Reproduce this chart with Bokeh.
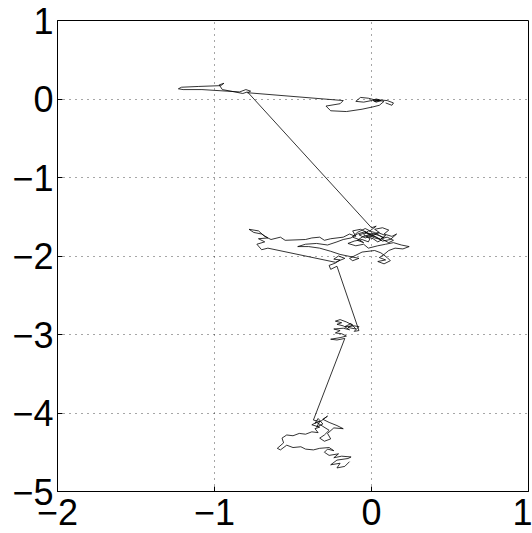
from bokeh.plotting import figure
from bokeh.models import FixedTicker, Range1d
from bokeh.embed import file_html
from bokeh.resources import INLINE

x_ticks = [-2, -1, 0, 1]
y_ticks = [1, 0, -1, -2, -3, -4, -5]
x_tick_labels = ["\u22122", "\u22121", "0", "1"]
y_tick_labels = ["1", "0", "\u22121", "\u22122", "\u22123", "\u22124", "\u22125"]

# bottom cluster
path_x_bottom = [-0.14, -0.17, -0.22, -0.20, -0.26, -0.22, -0.15, -0.13, -0.19, -0.24, -0.21, -0.27, -0.30,
                 -0.28, -0.24, -0.27, -0.33, -0.37, -0.42, -0.45, -0.50, -0.54, -0.58, -0.60, -0.56, -0.57,
                 -0.54, -0.50, -0.46, -0.42, -0.38, -0.34, -0.36, -0.33, -0.38, -0.35, -0.31, -0.27, -0.30,
                 -0.33, -0.30, -0.26, -0.28, -0.24, -0.18, -0.22, -0.27, -0.31, -0.28, -0.32, -0.36, -0.34,
                 -0.31, -0.35, -0.33, -0.37]
path_y_bottom = [-4.62, -4.68, -4.70, -4.64, -4.66, -4.60, -4.58, -4.56, -4.55, -4.57, -4.52, -4.54, -4.50,
                 -4.46, -4.48, -4.44, -4.45, -4.47, -4.46, -4.43, -4.44, -4.41, -4.47, -4.45, -4.38, -4.32,
                 -4.28, -4.29, -4.26, -4.27, -4.24, -4.25, -4.20, -4.18, -4.15, -4.12, -4.17, -4.22, -4.28,
                 -4.32, -4.36, -4.33, -4.26, -4.19, -4.20, -4.16, -4.12, -4.08, -4.04, -4.10, -4.13, -4.07,
                 -4.14, -4.18, -4.11, -4.09]

# cluster near -3
path_x_mid = [-0.17, -0.22, -0.26, -0.20, -0.16, -0.19, -0.23, -0.20, -0.24, -0.18, -0.14, -0.18, -0.22,
              -0.19, -0.23, -0.20, -0.16, -0.12, -0.15, -0.10, -0.13, -0.17, -0.11, -0.08, -0.11, -0.08]
path_y_mid = [-3.05, -3.07, -3.06, -3.04, -3.02, -2.99, -2.98, -2.95, -2.93, -2.92, -2.94, -2.89, -2.87,
              -2.85, -2.83, -2.81, -2.84, -2.88, -2.91, -2.93, -2.86, -2.90, -2.89, -2.90, -2.96, -2.95]

# main cluster near -2
path_x_main = [-0.22, -0.26, -0.27, -0.23, -0.20, -0.24, -0.21, -0.17, -0.23,
               -0.66, -0.70, -0.73, -0.68, -0.72, -0.66, -0.70, -0.75, -0.78, -0.72, -0.68, -0.64,
               -0.58, -0.55, -0.42, -0.38, -0.33, -0.30, -0.26, -0.18,
               -0.14, -0.10, -0.12, -0.07, -0.03, -0.08, -0.04, 0.01, 0.05, 0.02, 0.07, 0.11, 0.08, 0.13,
               0.16, 0.12, 0.07, 0.03,
               0.00, -0.04, -0.01, 0.03, 0.06, 0.02, -0.02, -0.06, -0.09, -0.05, -0.08, -0.12, -0.09,
               -0.04, 0.00, 0.04, 0.09, 0.06, 0.10, 0.14, 0.11, 0.07, 0.04, 0.01, -0.03, 0.00, 0.05,
               0.08, 0.05, 0.02, -0.02, -0.05, -0.01,
               -0.02, -0.06, -0.11, -0.15, -0.10, -0.05, -0.02, 0.04, 0.09, 0.14,
               0.19, 0.24, 0.20, 0.15, 0.11, 0.08, 0.05, 0.09, 0.04, 0.08, 0.12, 0.10, 0.06, 0.02,
               -0.06, -0.10, -0.14, -0.12, -0.08, -0.20, -0.26, -0.33, -0.40, -0.47, -0.42, -0.35, -0.28,
               -0.22, -0.18, -0.13, -0.09, -0.04, -0.01, 0.03, 0.00]
path_y_main = [-2.13, -2.17, -2.12, -2.09, -2.05, -2.04, -2.00, -2.03, -2.08,
               -1.90, -1.92, -1.85, -1.82, -1.78, -1.77, -1.72, -1.70, -1.66, -1.68, -1.75, -1.79,
               -1.76, -1.80, -1.79, -1.77, -1.76, -1.80, -1.78, -1.76,
               -1.72, -1.75, -1.68, -1.66, -1.70, -1.73, -1.77, -1.74, -1.70, -1.66, -1.64, -1.67, -1.72,
               -1.75, -1.72, -1.79, -1.81,
               -1.76, -1.74, -1.70, -1.72, -1.76, -1.79, -1.77, -1.73, -1.76, -1.80, -1.83, -1.79, -1.76,
               -1.72, -1.69, -1.73, -1.70, -1.74, -1.78, -1.76, -1.80, -1.83, -1.79, -1.82, -1.78, -1.75,
               -1.71, -1.74, -1.77, -1.74, -1.70, -1.68, -1.73, -1.78,
               -1.82, -1.79, -1.81, -1.84, -1.87, -1.85, -1.90, -1.87, -1.85, -1.83,
               -1.86, -1.88, -1.91, -1.90, -1.93, -1.98, -2.02, -2.05, -2.07, -2.10, -2.06,
               -2.02, -1.96, -1.93, -1.95, -1.99, -2.03, -2.06, -2.03, -1.98, -1.94, -1.90, -1.88, -1.88,
               -1.85, -1.84, -1.86, -1.82, -1.79, -1.77, -1.70, -1.65, -1.68, -1.62, -1.64]

# top part
path_x_top = [-0.79, -0.82, -0.87, -0.95, -0.97, -0.94, -0.96, -1.10, -1.21, -1.23, -1.20, -1.08, -0.92,
              -0.84, -0.80, -0.77, -0.79,
              -0.18, -0.20, -0.29, -0.26, -0.16, -0.06, 0.01, 0.05, 0.08, 0.02, -0.02, -0.07, -0.10,
              -0.05, 0.00, 0.03, 0.05, 0.02, 0.06, 0.03, 0.01, 0.04, 0.10, 0.14, 0.13, 0.09]
path_y_top = [0.09, 0.07, 0.09, 0.12, 0.18, 0.20, 0.17, 0.16, 0.15, 0.13, 0.12, 0.12, 0.10,
              0.09, 0.12, 0.10, 0.08,
              -0.02, -0.06, -0.09, -0.15, -0.16, -0.13, -0.10, -0.08, -0.03, -0.01, 0.01, 0.02, -0.03,
              -0.04, -0.02, 0.00, -0.01, -0.03, -0.02, -0.04, -0.02, -0.01, -0.02, -0.05, -0.08, -0.05]

xs = path_x_bottom + path_x_mid + path_x_main + path_x_top
ys = path_y_bottom + path_y_mid + path_y_main + path_y_top

p = figure(width=532, height=533, output_backend="svg", toolbar_location=None,
           x_range=Range1d(-2, 1), y_range=Range1d(-5, 1),
           min_border_left=57, min_border_right=4, min_border_top=20, min_border_bottom=42)
p.background_fill_color = "white"
p.border_fill_color = "white"
p.outline_line_color = "black"
p.outline_line_width = 1

p.line(xs, ys, line_color="black", line_width=0.8)

font = "Liberation Sans"
p.xaxis.ticker = FixedTicker(ticks=x_ticks)
p.yaxis.ticker = FixedTicker(ticks=y_ticks)
p.xaxis.major_label_overrides = {t: l for t, l in zip(x_ticks, x_tick_labels)}
p.yaxis.major_label_overrides = {t: l for t, l in zip(y_ticks, y_tick_labels)}
for ax in (p.xaxis[0], p.yaxis[0]):
    ax.major_label_text_font = font
    ax.major_label_text_font_size = "36px"
    ax.major_label_text_color = "black"
    ax.axis_line_color = "black"
    ax.major_tick_in = 5
    ax.major_tick_out = 0
    ax.minor_tick_line_color = None
    ax.major_tick_line_color = "black"
p.xaxis.major_label_standoff = 7
p.yaxis.major_label_standoff = 4

for g in (p.xgrid[0], p.ygrid[0]):
    g.grid_line_color = "black"
    g.grid_line_alpha = 0.7
    g.grid_line_dash = "1 5"
    g.grid_line_width = 1

open("out.html", "w").write(file_html(p, INLINE))
